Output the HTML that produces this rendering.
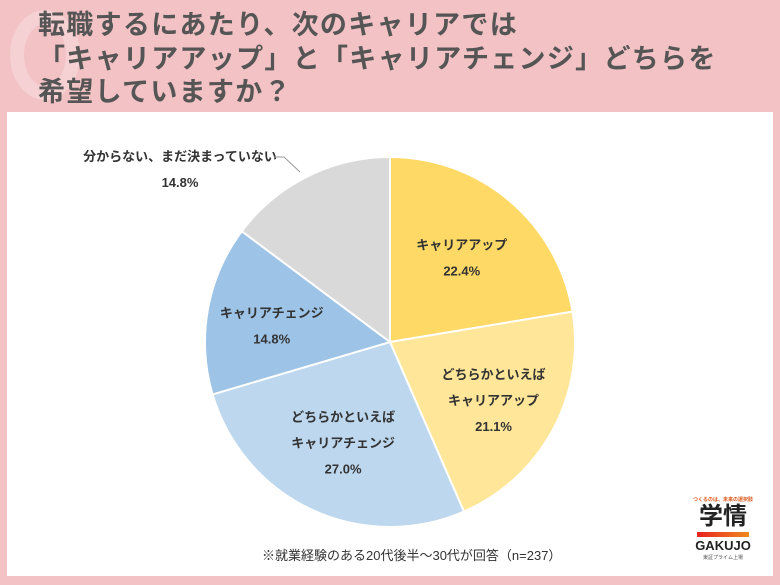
<!DOCTYPE html>
<html><head><meta charset="utf-8">
<style>
body{margin:0;width:780px;height:585px;background:#F2C2C4;position:relative;overflow:hidden;font-family:"Liberation Sans","Noto Sans CJK JP",sans-serif;}
.title{position:absolute;left:38px;top:9px;font-size:27px;font-weight:bold;color:#555;line-height:33.5px;letter-spacing:1.3px;}
.deco{position:absolute;left:10px;top:10px;width:70px;height:90px;border:14px solid rgba(255,255,255,0.25);border-radius:50%;box-sizing:border-box;}
.panel{position:absolute;left:7px;top:112px;width:766px;height:464px;background:#fff;}
svg text{font-family:"Liberation Sans","Noto Sans CJK JP",sans-serif;font-weight:bold;fill:#333;font-size:13px;}
.note{position:absolute;left:262px;top:545px;font-size:13px;color:#333;}
.logo{position:absolute;left:683px;top:496px;width:80px;text-align:center;}
</style></head><body>
<div class="deco"></div>
<div class="title">転職するにあたり、次のキャリアでは<br>「キャリアアップ」と「キャリアチェンジ」どちらを<br>希望していますか？</div>
<div class="panel"></div>
<svg id="pie" width="780" height="585" style="position:absolute;left:0;top:0"></svg>
<div class="note">※就業経験のある20代後半～30代が回答（n=237）</div>
<div class="logo">
<div style="font-size:5px;color:#e05a1e;font-weight:bold;white-space:nowrap">つくるのは、未来の選択肢</div>
<div style="font-size:24px;font-weight:bold;color:#222;line-height:28px">学情</div>
<div style="height:5px;margin:1px 14px;background:linear-gradient(90deg,#e8221e,#f08a1e)"></div>
<div style="font-size:13px;font-weight:bold;color:#222;line-height:16px">GAKUJO</div>
<div style="font-size:5px;color:#555">東証プライム上場</div>
</div>
<script>
const categories=["キャリアアップ","どちらかといえば\nキャリアアップ","どちらかといえば\nキャリアチェンジ","キャリアチェンジ","分からない、まだ決まっていない"];
const values=[22.4,21.1,27.0,14.8,14.8];
const labels=["22.4%","21.1%","27.0%","14.8%","14.8%"];
const colors=["#FFD966","#FFE699","#BDD7EE","#9DC3E6","#D9D9D9"];
const svg=document.getElementById('pie');
const NS="http://www.w3.org/2000/svg";
const cx=390,cy=342,r=185;
const total=values.reduce((a,b)=>a+b,0);
function pt(a,rr){return [cx+rr*Math.sin(a),cy-rr*Math.cos(a)];}
let acc=0;
values.forEach((v,i)=>{
 const a0=acc/total*2*Math.PI;acc+=v;const a1=acc/total*2*Math.PI;
 const p0=pt(a0,r),p1=pt(a1,r);
 const path=document.createElementNS(NS,'path');
 path.setAttribute('d',`M${cx},${cy}L${p0[0]},${p0[1]}A${r},${r} 0 ${a1-a0>Math.PI?1:0} 1 ${p1[0]},${p1[1]}Z`);
 path.setAttribute('fill',colors[i]);path.setAttribute('stroke','#fff');path.setAttribute('stroke-width','2');
 
 
 svg.appendChild(path);
 const am=(a0+a1)/2;
 let lp;
 if(i===4){lp=[180,169];}else{lp=pt(am,r*0.6);}
 if(i===1){lp=[lp[0]+6,lp[1]+5];}
 if(i===3){lp=[lp[0]-9,lp[1]+3];}
 const lines=categories[i].split('\n').concat([labels[i]]);
 const t=document.createElementNS(NS,'text');
 t.setAttribute('text-anchor','middle');
 
 
 const h=(lines.length-1)*26;
 lines.forEach((s,k)=>{const ts=document.createElementNS(NS,'tspan');ts.setAttribute('x',lp[0]);ts.setAttribute('y',lp[1]-h/2+k*26+5);ts.textContent=s;t.appendChild(ts);});
 svg.appendChild(t);
});
const ld=document.createElementNS(NS,'polyline');
ld.setAttribute('points','274,157 284,157 300,172');ld.setAttribute('fill','none');ld.setAttribute('stroke','#999');


svg.appendChild(ld);
</script>
</body></html>
